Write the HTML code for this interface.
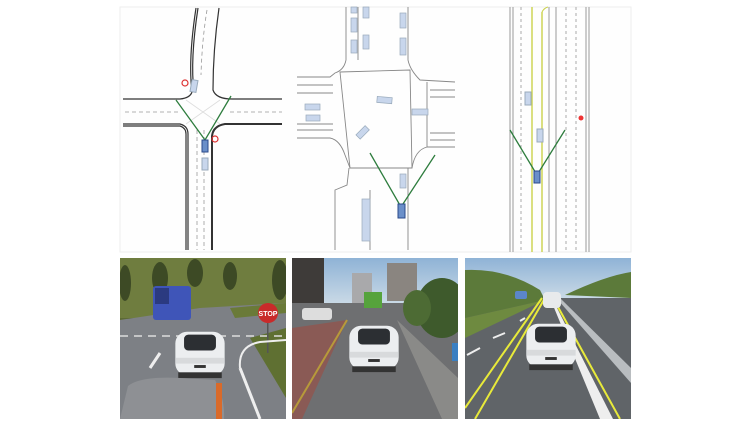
<!DOCTYPE html>
<html><head><meta charset="utf-8"><style>html,body{margin:0;padding:0;background:#fff;width:756px;height:425px;overflow:hidden}</style></head><body>
<svg width="756" height="425" viewBox="0 0 756 425" xmlns="http://www.w3.org/2000/svg">
<defs>
<linearGradient id="sky" x1="0" y1="0" x2="0" y2="1"><stop offset="0" stop-color="#8fb3d6"/><stop offset="1" stop-color="#c9d9e6"/></linearGradient>
<g id="car"><rect x="-17" y="-14" width="34" height="30" rx="8" fill="#eceef0"/><rect x="-11" y="-12" width="22" height="11" rx="3" fill="#2c2f33"/><rect x="-17" y="4" width="34" height="4" fill="#d8dadc"/><rect x="-15" y="14" width="30" height="4" fill="#333"/><rect x="-4" y="9" width="8" height="2" fill="#333"/></g>
</defs>
<rect x="120" y="7" width="511" height="245" fill="#fefefe" stroke="#eee" stroke-width="1"/>
<!-- Panel 1 -->
<g fill="none" stroke="#333" stroke-width="1.2">
<path d="M196 8 Q188 60 192 92 Q190 98 180 99 L123 99"/>
<path d="M198 8 Q190 60 194 92"/>
<path d="M219 8 Q213 50 213 90 Q216 99 232 99 L282 99"/>
<path d="M123 124 L180 124 Q188 126 188 134 L188 250"/>
<path d="M123 126 L180 126 Q186 128 186 134 L186 250"/>
<path d="M282 124 L225 124 Q213 126 212 136 L212 250" stroke-width="2"/>
</g>
<g fill="none" stroke="#999" stroke-width="0.8" stroke-dasharray="4,3">
<path d="M207 10 Q202 40 201 75"/><path d="M125 112 L178 112"/><path d="M230 112 L282 112"/>
<path d="M197 130 L197 250"/><path d="M204 130 L204 250"/></g>
<g stroke="#ddd" stroke-width="0.8"><path d="M186 100 L220 124 M220 100 L186 124"/></g>
<path d="M176 100 L205 140 L231 96" fill="none" stroke="#2e7d3e" stroke-width="1.3"/>
<rect x="202" y="140" width="6" height="12" fill="#6a8fc9" stroke="#2a4a8a"/>
<rect x="191" y="80" width="6" height="12" fill="#c8d6ec" stroke="#9ab" transform="rotate(10 194 86)"/>
<rect x="202" y="158" width="6" height="12" fill="#c8d6ec" stroke="#9ab"/>
<circle cx="185" cy="83" r="3" fill="none" stroke="#d33" stroke-width="1.2"/>
<circle cx="215" cy="139" r="3" fill="none" stroke="#d33" stroke-width="1.2"/>
<!-- Panel 2 -->
<g fill="none" stroke="#888" stroke-width="0.9">
<path d="M346 7 L346 60 Q344 70 335 73 L330 77 L297 77"/>
<path d="M408 7 L408 60 Q410 70 420 80 L455 82"/>
<path d="M340 72 L410 70 L412 168 L350 168 Z"/>
<path d="M297 138 L330 138 Q340 140 345 155 L350 168"/>
<path d="M455 147 L427 147 Q415 150 412 168"/>
<path d="M349 168 L347 185 L335 190 L335 250"/><path d="M408 168 L408 250"/>
<path d="M297 85 L333 85 M297 93 L333 93 M297 124 L333 124 M297 130 L333 130 M430 90 L455 90 M430 97 L455 97 M430 133 L455 133 M430 140 L455 140 M427 82 L427 147"/>
<path d="M358 7 L358 60 M370 190 L370 250"/>
</g>
<g fill="#c8d6ec" stroke="#9ab" stroke-width="0.7">
<rect x="351" y="7" width="6" height="6"/><rect x="363" y="7" width="6" height="11"/><rect x="351" y="18" width="6" height="14"/><rect x="363" y="35" width="6" height="14"/><rect x="351" y="40" width="6" height="13"/>
<rect x="400" y="13" width="6" height="15"/><rect x="400" y="38" width="6" height="17"/>
<rect x="305" y="104" width="15" height="6"/><rect x="306" y="115" width="14" height="6"/><rect x="377" y="97" width="15" height="6" transform="rotate(5 384 100)"/>
<rect x="412" y="109" width="16" height="6"/><rect x="360" y="126" width="6" height="13" transform="rotate(45 363 132)"/>
<rect x="400" y="174" width="6" height="14"/><rect x="362" y="199" width="8" height="42"/>
</g>
<path d="M370 153 L401 207 L435 155" fill="none" stroke="#2e7d3e" stroke-width="1.3"/>
<rect x="398" y="204" width="7" height="14" fill="#6a8fc9" stroke="#2a4a8a"/>
<!-- Panel 3 -->
<g fill="none" stroke-width="1">
<path d="M510 7 V252 M513 7 V252 M549 7 V252 M556 7 V252 M586 7 V252 M589 7 V252" stroke="#999"/>
<path d="M521 7 V252 M566 7 V252 M576 7 V252" stroke="#aaa" stroke-dasharray="3,3"/>
<path d="M532 7 V252 M542 12 V252" stroke="#cbd24a" stroke-width="1.4"/>
<path d="M542 12 Q544 8 548 7" stroke="#cbd24a"/>
</g>
<circle cx="581" cy="118" r="2.5" fill="#e33"/>
<rect x="525" y="92" width="6" height="13" fill="#c8d6ec" stroke="#9ab"/>
<rect x="537" y="129" width="6" height="13" fill="#c8d6ec" stroke="#9ab"/>
<path d="M510 130 L537 175 L565 130" fill="none" stroke="#2e7d3e" stroke-width="1.3"/>
<rect x="534" y="171" width="6" height="12" fill="#6a8fc9" stroke="#2a4a8a"/>
<!-- Photo 1 -->
<svg x="120" y="258" width="166" height="161" viewBox="0 0 166 161">
<rect width="166" height="161" fill="#5d6a35"/>
<rect width="166" height="60" fill="#6f7d3f"/>
<g fill="#3d4a25"><ellipse cx="40" cy="20" rx="8" ry="16"/><ellipse cx="75" cy="15" rx="8" ry="14"/><ellipse cx="110" cy="18" rx="7" ry="14"/><ellipse cx="160" cy="22" rx="8" ry="20"/><ellipse cx="5" cy="25" rx="6" ry="18"/></g>
<path d="M0 62 L80 50 L166 45 L166 161 L0 161 Z" fill="#7d8085"/>
<path d="M110 50 L166 45 L166 55 L115 60 Z" fill="#6a7a38"/>
<path d="M130 80 L166 70 L166 140 Z" fill="#5f7032"/>
<path d="M0 78 H166" stroke="#ddd" stroke-dasharray="8,6" stroke-width="1.5"/>
<rect x="33" y="28" width="38" height="34" rx="3" fill="#3f55b8"/><rect x="35" y="30" width="14" height="16" fill="#2b3a80"/>
<circle cx="148" cy="55" r="10" fill="#c92a2a"/><text x="148" y="58" font-family="Liberation Sans, sans-serif" font-size="7" font-weight="bold" fill="#fff" text-anchor="middle">STOP</text>
<rect x="147" y="65" width="1.5" height="30" fill="#555"/>
<path d="M120 110 Q118 88 140 84 L166 82" stroke="#eee" stroke-width="2" fill="none"/><path d="M120 110 L140 161" stroke="#eee" stroke-width="3"/>
<path d="M40 95 L30 110" stroke="#eee" stroke-width="3"/>
<g transform="translate(80,94) scale(1.45)"><use href="#car"/></g>
<path d="M0 161 L8 128 Q20 118 60 120 L95 122 Q105 140 104 161 Z" fill="#8e9094"/>
<rect x="96" y="125" width="6" height="36" fill="#d96a2a"/>
</svg>
<!-- Photo 2 -->
<svg x="292" y="258" width="166" height="161" viewBox="0 0 166 161">
<rect width="166" height="161" fill="#6e6f71"/>
<rect width="166" height="45" fill="url(#sky)"/>
<rect x="0" y="0" width="32" height="45" fill="#3e3b39"/><rect x="95" y="5" width="30" height="38" fill="#8a8580"/><rect x="60" y="15" width="20" height="30" fill="#a9a9ab"/>
<ellipse cx="150" cy="50" rx="26" ry="30" fill="#3e5a2c"/><ellipse cx="125" cy="50" rx="14" ry="18" fill="#4d6b34"/>
<path d="M0 70 L55 62 L10 161 L0 161 Z" fill="#8a5a55"/>
<path d="M55 62 L0 155" stroke="#b79a3a" stroke-width="2"/>
<path d="M105 62 L166 120 L166 161 L150 161 Z" fill="#8a8a88"/>
<rect x="72" y="34" width="18" height="16" fill="#56a33c"/>
<rect x="10" y="50" width="30" height="12" rx="3" fill="#ddd"/>
<g transform="translate(82,88) scale(1.45)"><use href="#car"/></g>
<rect x="160" y="85" width="6" height="18" fill="#3a7fc2"/>
</svg>
<!-- Photo 3 -->
<svg x="465" y="258" width="166" height="161" viewBox="0 0 166 161">
<rect width="166" height="161" fill="#606468"/>
<rect width="166" height="40" fill="url(#sky)"/>
<path d="M0 12 Q40 10 75 32 L80 42 L0 60 Z" fill="#5c7a3a"/><path d="M100 37 Q140 18 166 14 L166 40 Z" fill="#5c7a3a"/>
<path d="M0 60 L80 42 L0 80 Z" fill="#6e8a40"/>
<g stroke="#e8ea3a" stroke-width="2" fill="none"><path d="M77 40 L0 150 M80 40 L10 161 M88 40 L155 161"/></g>
<path d="M85 40 L135 161 L148 161 L87 40 Z" fill="#eee"/>
<path d="M95 40 L166 110 L166 125 L93 42 Z" fill="#b9bdc0"/>
<g stroke="#eee" stroke-width="2"><path d="M40 75 L28 80 M15 90 L2 97 M60 60 L55 63"/></g>
<rect x="50" y="33" width="12" height="8" rx="2" fill="#5b86c9"/>
<rect x="78" y="34" width="18" height="16" rx="4" fill="#e8eaec"/>
<g transform="translate(86,86) scale(1.45)"><use href="#car"/></g>
</svg>
</svg>
</body></html>
